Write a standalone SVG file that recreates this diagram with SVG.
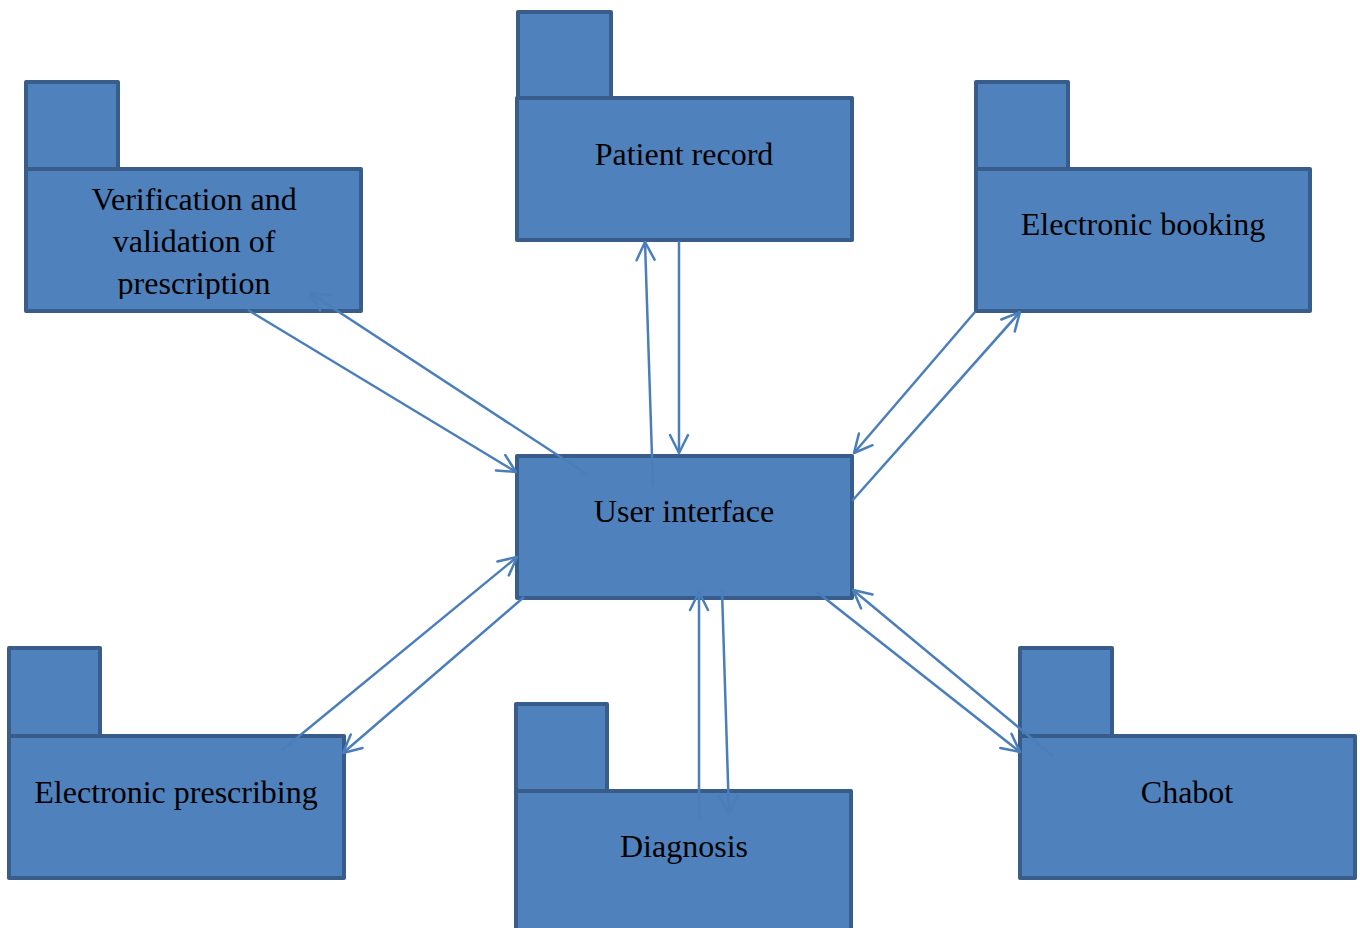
<svg xmlns="http://www.w3.org/2000/svg" width="1360" height="928" viewBox="0 0 1360 928">
  <style>
    .box { fill: #4F81BD; stroke: #385D8A; stroke-width: 4; stroke-linejoin: round; }
    .lbl { font-family: "Liberation Serif", "Times New Roman", serif; font-size: 32px; fill: #000; text-anchor: middle; }
    .conn { fill: none; stroke: #4A7EBB; stroke-width: 2.5; marker-end: url(#open); }
  </style>
  <defs>
    <marker id="open" viewBox="0 0 22 22" refX="20" refY="11" markerWidth="22" markerHeight="22" markerUnits="userSpaceOnUse" orient="auto">
      <path d="M2,2 L20,11 L2,20" fill="none" stroke="#4A7EBB" stroke-width="2.5" stroke-linecap="round" stroke-linejoin="round"/>
    </marker>
    <!-- text area of the verification box: the last line's descenders are cut off -->
    <clipPath id="verifText">
      <rect x="28" y="171" width="331" height="128"/>
    </clipPath>
  </defs>
  <rect width="1360" height="928" fill="#FFFFFF"/>

  <g id="verification">
    <rect class="box" x="26" y="82" width="92" height="87"/>
    <rect class="box" x="26" y="169" width="335" height="142"/>
    <g clip-path="url(#verifText)">
      <text class="lbl" x="194" y="210">Verification and</text>
      <text class="lbl" x="194" y="252">validation of</text>
      <text class="lbl" x="194" y="294">prescription</text>
    </g>
  </g>

  <g id="patient-record">
    <rect class="box" x="518" y="12" width="93" height="87"/>
    <rect class="box" x="517" y="98" width="335" height="142"/>
    <text class="lbl" x="684" y="165">Patient record</text>
  </g>

  <g id="electronic-booking">
    <rect class="box" x="976" y="82" width="92" height="87"/>
    <rect class="box" x="976" y="169" width="334" height="142"/>
    <text class="lbl" x="1143" y="235">Electronic booking</text>
  </g>

  <g id="user-interface">
    <rect class="box" x="517" y="456" width="335" height="142"/>
    <text class="lbl" x="684" y="522">User interface</text>
  </g>

  <g id="electronic-prescribing">
    <rect class="box" x="9" y="648" width="91" height="88"/>
    <rect class="box" x="9" y="736" width="335" height="142"/>
    <text class="lbl" x="176" y="803">Electronic prescribing</text>
  </g>

  <g id="diagnosis">
    <rect class="box" x="516" y="704" width="91" height="87"/>
    <rect class="box" x="516" y="791" width="335" height="150"/>
    <text class="lbl" x="684" y="857">Diagnosis</text>
  </g>

  <g id="chabot">
    <rect class="box" x="1020" y="648" width="92" height="88"/>
    <rect class="box" x="1020" y="736" width="335" height="142"/>
    <text class="lbl" x="1187" y="803">Chabot</text>
  </g>

  <g id="connectors">
    <line class="conn" x1="248" y1="310" x2="516" y2="472"/>
    <line class="conn" x1="588" y1="475" x2="310" y2="293"/>
    <line class="conn" x1="653" y1="487" x2="645" y2="242"/>
    <line class="conn" x1="679" y1="241" x2="679" y2="453"/>
    <line class="conn" x1="975" y1="312" x2="854" y2="453"/>
    <line class="conn" x1="852" y1="501" x2="1020" y2="312"/>
    <line class="conn" x1="281" y1="751" x2="517" y2="557"/>
    <line class="conn" x1="524" y1="597" x2="343" y2="753"/>
    <line class="conn" x1="699" y1="818" x2="699" y2="592"/>
    <line class="conn" x1="722" y1="590" x2="729" y2="814"/>
    <line class="conn" x1="817" y1="592" x2="1020" y2="752"/>
    <line class="conn" x1="1053" y1="756" x2="853" y2="590"/>
  </g>
</svg>
